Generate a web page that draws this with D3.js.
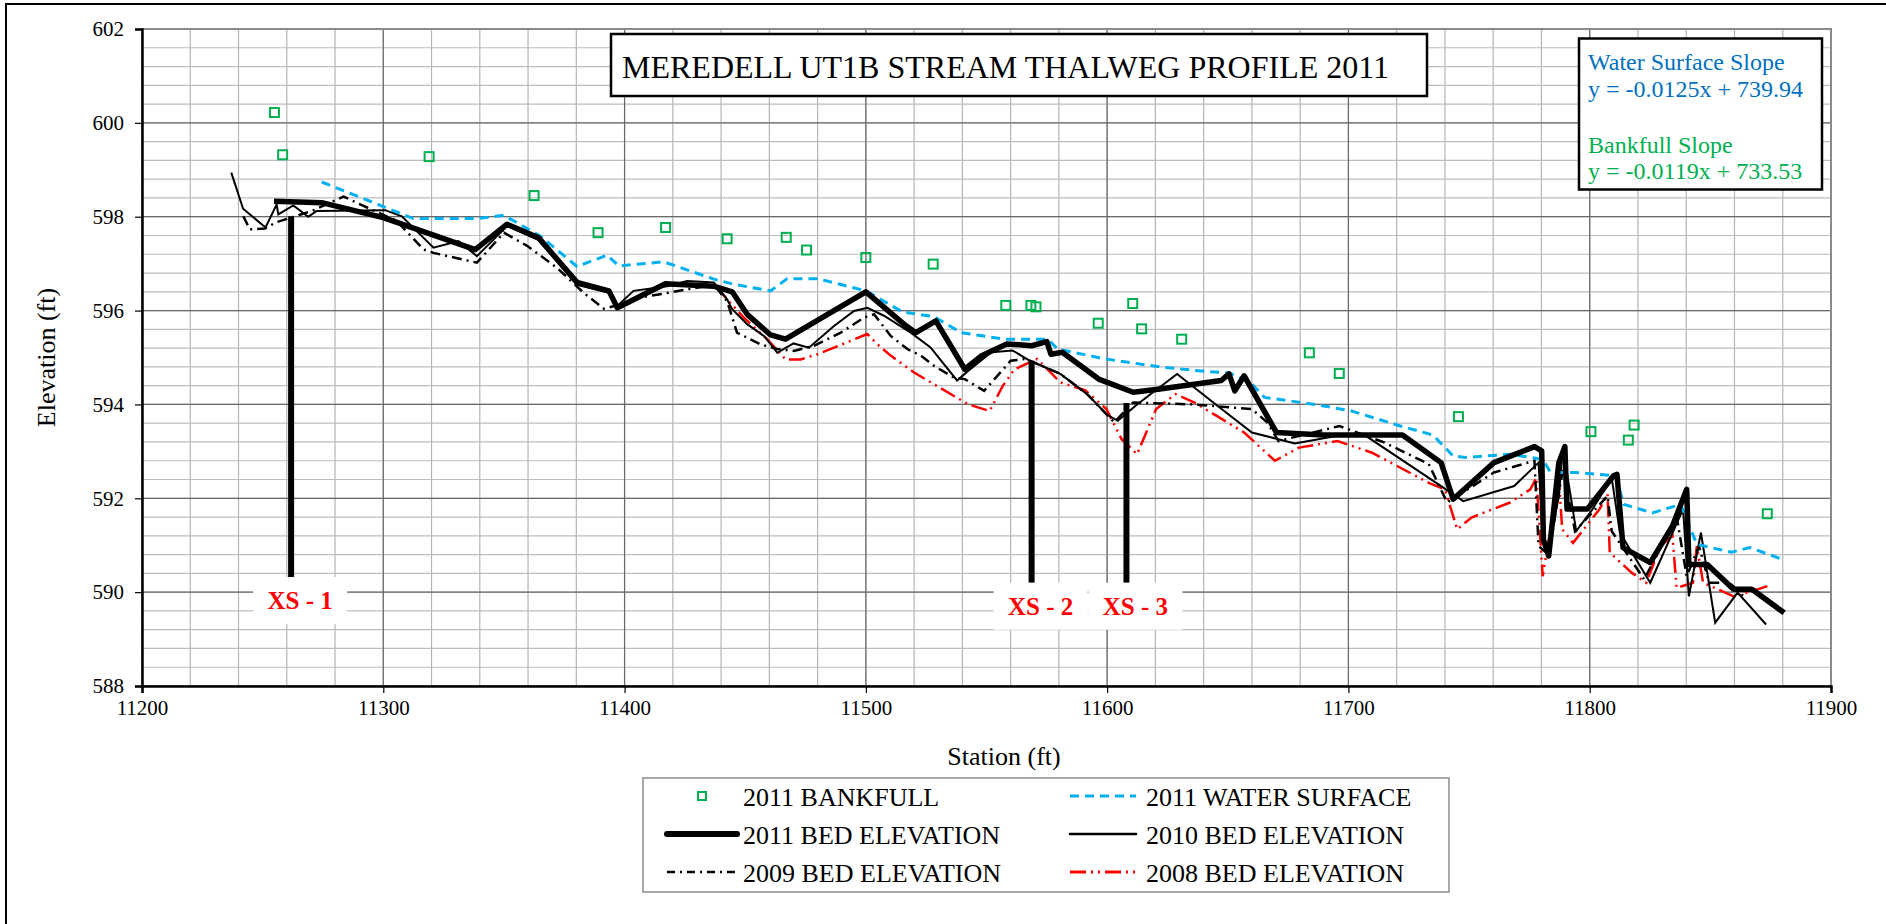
<!DOCTYPE html>
<html>
<head>
<meta charset="utf-8">
<script src="https://cdn.jsdelivr.net/npm/d3@7"></script>
<style>
  body { margin: 0; background: #fff; }
  text { font-family: "Liberation Serif", "Times New Roman", serif; }
</style>
</head>
<body>
<div id="profile"></div>
<script>
// station (ft), elevation (ft)
var bankfull2011 = [
  [11254.9, 600.22], [11258.3, 599.32], [11319.0, 599.28], [11362.5, 598.45],
  [11389.0, 597.66], [11417.0, 597.77], [11442.5, 597.53], [11467.0, 597.56],
  [11475.4, 597.29], [11500.0, 597.13], [11527.9, 596.99], [11558.0, 596.11],
  [11568.4, 596.11], [11570.5, 596.08], [11596.3, 595.73], [11610.6, 596.15],
  [11614.3, 595.61], [11630.9, 595.39], [11683.8, 595.10], [11696.2, 594.66],
  [11745.6, 593.74], [11800.5, 593.42], [11816.0, 593.24], [11818.4, 593.56],
  [11873.6, 591.67]
];

var water2011 = [
  [11274.5, 598.74], [11312.5, 597.96], [11338.8, 597.96], [11350.0, 598.03],
  [11365.0, 597.59], [11380.3, 596.94], [11392.8, 597.18], [11397.6, 596.95],
  [11401.7, 596.97], [11416.2, 597.04], [11437.0, 596.67], [11445.3, 596.56],
  [11460.5, 596.42], [11467.4, 596.68], [11480.0, 596.68], [11500.0, 596.42],
  [11515.2, 595.97], [11528.3, 595.87], [11539.4, 595.53], [11557.4, 595.39],
  [11575.4, 595.39], [11579.5, 595.18], [11599.0, 594.97], [11621.9, 594.80],
  [11641.2, 594.70], [11650.6, 594.67], [11655.7, 594.56], [11659.3, 594.47],
  [11665.2, 594.15], [11686.2, 594.00], [11701.3, 593.86], [11721.5, 593.54],
  [11735.0, 593.35], [11743.4, 592.90], [11748.5, 592.87], [11767.0, 592.94],
  [11780.5, 592.83], [11783.8, 592.55], [11794.0, 592.55], [11810.8, 592.48],
  [11814.1, 591.87], [11826.0, 591.69], [11837.7, 591.87], [11844.4, 591.02],
  [11858.8, 590.85], [11866.3, 590.95], [11879.8, 590.70]
];

var bed2011 = [
  [11254.7, 598.33], [11274.5, 598.30], [11300.0, 597.98], [11338.1, 597.30],
  [11351.3, 597.84], [11364.4, 597.55], [11380.3, 596.60], [11393.5, 596.42],
  [11397.0, 596.06], [11416.9, 596.57], [11437.0, 596.52], [11444.6, 596.40],
  [11450.8, 595.92], [11460.5, 595.48], [11466.7, 595.39], [11500.0, 596.40],
  [11515.8, 595.71], [11520.7, 595.53], [11529.0, 595.78], [11541.0, 594.75],
  [11548.0, 595.04], [11558.4, 595.29], [11568.7, 595.25], [11575.0, 595.34],
  [11576.7, 595.07], [11581.4, 595.11], [11596.5, 594.54], [11610.8, 594.26],
  [11621.9, 594.33], [11647.3, 594.51], [11650.5, 594.65], [11652.9, 594.29],
  [11656.8, 594.61], [11670.2, 593.40], [11689.6, 593.35], [11722.4, 593.35],
  [11738.4, 592.76], [11743.4, 591.98], [11760.3, 592.76], [11777.1, 593.10],
  [11780.1, 593.01], [11780.8, 591.12], [11783.0, 590.77], [11787.2, 592.76],
  [11789.7, 593.10], [11790.6, 591.77], [11799.0, 591.77], [11809.9, 592.48],
  [11811.3, 592.51], [11813.8, 590.95], [11825.1, 590.63], [11834.3, 591.41],
  [11840.2, 592.19], [11841.1, 590.59], [11848.7, 590.59], [11859.6, 590.06],
  [11867.2, 590.06], [11880.6, 589.56]
];

var bed2010 = [
  [11237.0, 598.94], [11241.9, 598.17], [11251.2, 597.77], [11255.8, 598.26],
  [11256.5, 598.05], [11262.7, 598.24], [11268.9, 598.00], [11272.3, 598.12],
  [11300.8, 598.14], [11307.7, 598.01], [11320.8, 597.34], [11331.2, 597.48],
  [11338.8, 597.16], [11351.3, 597.80], [11364.4, 597.50], [11380.3, 596.55],
  [11393.5, 596.38], [11397.0, 596.10], [11403.7, 596.42], [11417.6, 596.52],
  [11425.9, 596.63], [11437.0, 596.60], [11442.5, 596.24], [11444.6, 596.03],
  [11450.8, 595.71], [11458.0, 595.45], [11463.3, 595.10], [11470.0, 595.30],
  [11476.4, 595.21], [11486.8, 595.67], [11495.1, 595.99], [11500.6, 596.06],
  [11507.5, 595.89], [11518.6, 595.53], [11526.7, 595.22], [11537.8, 594.51],
  [11542.5, 594.72], [11552.0, 595.11], [11560.8, 595.15], [11568.0, 594.93],
  [11580.6, 594.65], [11591.7, 594.22], [11599.7, 593.79], [11604.4, 593.65],
  [11612.4, 594.00], [11629.0, 594.65], [11645.7, 593.97], [11660.0, 593.40],
  [11677.8, 593.17], [11695.5, 593.33], [11707.2, 593.33], [11738.4, 592.26],
  [11747.6, 591.94], [11768.7, 592.26], [11778.8, 592.76], [11780.5, 591.20],
  [11783.0, 590.91], [11787.2, 592.05], [11788.9, 593.08], [11794.4, 591.30],
  [11800.7, 591.73], [11809.1, 592.44], [11812.5, 591.27], [11825.1, 590.20],
  [11838.7, 591.77], [11841.1, 589.91], [11846.1, 591.27], [11852.0, 589.35],
  [11861.3, 589.99], [11873.1, 589.31]
];

var bed2009 = [
  [11242.0, 598.01], [11244.7, 597.73], [11251.0, 597.75], [11255.5, 597.88],
  [11263.0, 598.00], [11270.8, 598.13], [11283.5, 598.43], [11291.8, 598.23],
  [11305.6, 597.91], [11316.7, 597.30], [11320.8, 597.23], [11338.8, 597.02],
  [11350.0, 597.66], [11359.6, 597.38], [11372.0, 596.91], [11383.0, 596.38],
  [11391.4, 596.04], [11398.2, 596.13], [11406.5, 596.28], [11414.8, 596.35],
  [11437.0, 596.55], [11442.5, 596.20], [11446.6, 595.53], [11456.3, 595.28],
  [11463.3, 595.18], [11470.2, 595.14], [11478.5, 595.25], [11489.6, 595.53],
  [11499.2, 595.85], [11503.4, 595.92], [11510.3, 595.46], [11517.2, 595.18],
  [11522.8, 595.04], [11528.3, 594.82], [11536.6, 594.57], [11541.0, 594.54],
  [11549.0, 594.29], [11560.0, 594.93], [11566.3, 594.97], [11580.6, 594.65],
  [11591.7, 594.22], [11602.9, 593.62], [11610.8, 594.04], [11636.2, 594.00],
  [11660.0, 593.90], [11666.3, 593.62], [11671.0, 593.22], [11696.3, 593.54],
  [11714.8, 593.19], [11733.3, 592.73], [11740.9, 591.91], [11760.3, 592.55],
  [11777.1, 592.80], [11778.8, 590.98], [11783.0, 590.80], [11788.9, 592.62],
  [11793.9, 591.30], [11807.4, 592.05], [11809.1, 591.30], [11822.6, 590.27],
  [11836.0, 591.62], [11840.2, 590.34], [11845.3, 590.98], [11849.5, 590.20],
  [11857.9, 590.20], [11863.8, 589.91]
];

var bed2008 = [
  [11437.6, 596.52], [11449.4, 595.85], [11459.1, 595.39], [11466.7, 594.96],
  [11473.0, 594.96], [11479.9, 595.07], [11486.8, 595.21], [11500.6, 595.50],
  [11504.8, 595.28], [11510.3, 595.04], [11520.0, 594.68], [11542.5, 594.00],
  [11551.3, 593.86], [11556.8, 594.40], [11561.6, 594.75], [11571.0, 594.97],
  [11580.6, 594.47], [11591.0, 594.30], [11599.7, 593.90], [11606.0, 593.26],
  [11612.4, 592.94], [11620.3, 593.90], [11628.3, 594.22], [11636.2, 594.04],
  [11656.8, 593.40], [11669.5, 592.80], [11679.5, 593.08], [11695.5, 593.22],
  [11709.8, 592.97], [11733.3, 592.33], [11740.0, 592.19], [11745.1, 591.34],
  [11751.0, 591.59], [11767.0, 591.91], [11775.4, 592.19], [11777.9, 592.44],
  [11780.5, 590.34], [11784.7, 591.62], [11787.2, 592.41], [11788.6, 591.34],
  [11793.1, 591.05], [11804.1, 591.77], [11807.4, 592.09], [11808.3, 590.84],
  [11817.5, 590.41], [11823.4, 590.20], [11829.3, 590.98], [11834.3, 591.20],
  [11836.0, 590.09], [11842.8, 590.20], [11844.4, 590.98], [11847.0, 590.20],
  [11859.6, 589.91], [11866.0, 590.00], [11875.6, 590.16]
];

// cross sections: name, station, top elev, bottom elev
var xsNames    = ["XS - 1", "XS - 2", "XS - 3"];
var xsStations = [11261.8, 11568.7, 11608.0];
var xsTops     = [598.01, 594.93, 594.03];
var xsBottoms  = [590.32, 590.20, 590.20];

var xTicks = [11200, 11300, 11400, 11500, 11600, 11700, 11800, 11900];
var yTicks = [588, 590, 592, 594, 596, 598, 600, 602];

var titleText = "MEREDELL UT1B STREAM THALWEG PROFILE 2011";
var slopeLines = ["Water Surface Slope", "y = -0.0125x + 739.94", "Bankfull Slope", "y = -0.0119x + 733.53"];

var legendNames = ["2011 BANKFULL", "2011 WATER SURFACE", "2011 BED ELEVATION",
                   "2010 BED ELEVATION", "2009 BED ELEVATION", "2008 BED ELEVATION"];

var width = 1886,
    height = 924;

var x = d3.scaleLinear().domain([11200, 11900]).range([142, 1831]);
var y = d3.scaleLinear().domain([588, 602]).range([686, 29]);

var svg = d3.select("#profile")
    .append("svg")
    .attr("width", width)
    .attr("height", height);

// outer chart frame (only left/top edges show)
svg.append("rect")
    .attr("x", 6).attr("y", 4)
    .attr("width", width + 20).attr("height", height + 20)
    .style("fill", "#fff")
    .style("stroke", "#000")
    .style("stroke-width", 2);

// grid
var minorX = d3.range(11200, 11901, 20),
    minorY = d3.range(588, 602.01, 0.4);

svg.append("g").selectAll("line")
    .data(minorX).enter().append("line")
    .attr("x1", function(d) { return x(d); }).attr("x2", function(d) { return x(d); })
    .attr("y1", y(588)).attr("y2", y(602))
    .style("stroke", "#b4b4b4").style("stroke-width", 1.2);

svg.append("g").selectAll("line")
    .data(minorY).enter().append("line")
    .attr("x1", x(11200)).attr("x2", x(11900))
    .attr("y1", function(d) { return y(d); }).attr("y2", function(d) { return y(d); })
    .style("stroke", "#bdbdbd").style("stroke-width", 1.2);

svg.append("g").selectAll("line")
    .data(xTicks).enter().append("line")
    .attr("x1", function(d) { return x(d); }).attr("x2", function(d) { return x(d); })
    .attr("y1", y(588)).attr("y2", y(602))
    .style("stroke", "#6a6a6a").style("stroke-width", 1.2);

svg.append("g").selectAll("line")
    .data(yTicks).enter().append("line")
    .attr("x1", x(11200)).attr("x2", x(11900))
    .attr("y1", function(d) { return y(d); }).attr("y2", function(d) { return y(d); })
    .style("stroke", "#6a6a6a").style("stroke-width", 1.2);

// plot border: grey top/right, black axes
svg.append("rect")
    .attr("x", x(11200)).attr("y", y(602))
    .attr("width", x(11900) - x(11200)).attr("height", y(588) - y(602))
    .style("fill", "none").style("stroke", "#8a8a8a").style("stroke-width", 2);

var xAxis = svg.append("g")
    .attr("transform", "translate(0," + y(588) + ")")
    .call(d3.axisBottom(x).tickValues(xTicks).tickFormat(d3.format("d")).tickSizeOuter(0).tickSize(7));

var yAxis = svg.append("g")
    .attr("transform", "translate(" + x(11200) + ",0)")
    .call(d3.axisLeft(y).tickValues(yTicks).tickFormat(d3.format("d")).tickSizeOuter(0).tickSize(7));

[xAxis, yAxis].forEach(function(a) {
  a.select(".domain").style("stroke", "#000").style("stroke-width", 2.5);
  a.selectAll(".tick line").style("stroke", "#000").style("stroke-width", 1.2);
  a.selectAll(".tick text")
      .style("font-family", "Liberation Serif")
      .style("font-size", "21px")
      .style("fill", "#000");
});
xAxis.selectAll(".tick text").attr("y", 14);
yAxis.selectAll(".tick text").attr("x", -18);

// axis titles
svg.append("text")
    .attr("x", 1004).attr("y", 765)
    .attr("text-anchor", "middle")
    .style("font-size", "26px")
    .text("Station (ft)");

svg.append("text")
    .attr("transform", "translate(55," + ((y(588) + y(602)) / 2) + ") rotate(-90)")
    .attr("text-anchor", "middle")
    .style("font-size", "26px")
    .text("Elevation (ft)");

// series
var line = d3.line()
    .x(function(d) { return x(d[0]); })
    .y(function(d) { return y(d[1]); });

var plot = svg.append("g");

plot.append("path").datum(bed2008).attr("d", line)
    .style("fill", "none").style("stroke", "#ff0000").style("stroke-width", 2.5)
    .style("stroke-dasharray", "16,5,2,5,2,5");

plot.append("path").datum(bed2009).attr("d", line)
    .style("fill", "none").style("stroke", "#000").style("stroke-width", 2.5)
    .style("stroke-dasharray", "10,5,2,5");

plot.append("path").datum(bed2010).attr("d", line)
    .style("fill", "none").style("stroke", "#000").style("stroke-width", 2);

plot.append("path").datum(water2011).attr("d", line)
    .style("fill", "none").style("stroke", "#00b0f0").style("stroke-width", 3)
    .style("stroke-dasharray", "9,6");

plot.append("path").datum(bed2011).attr("d", line)
    .style("fill", "none").style("stroke", "#000").style("stroke-width", 5.5)
    .style("stroke-linejoin", "round");

plot.selectAll(".bank")
    .data(bankfull2011).enter().append("rect")
    .attr("class", "bank")
    .attr("x", function(d) { return x(d[0]) - 4.5; })
    .attr("y", function(d) { return y(d[1]) - 4.5; })
    .attr("width", 9).attr("height", 9)
    .style("fill", "none").style("stroke", "#00b050").style("stroke-width", 2);

// cross section markers
xsNames.forEach(function(name, i) {
  plot.append("line")
      .attr("x1", x(xsStations[i])).attr("x2", x(xsStations[i]))
      .attr("y1", y(xsTops[i])).attr("y2", y(xsBottoms[i]))
      .style("stroke", "#000").style("stroke-width", 6);

  var cx = x(xsStations[i]) + 9;
  plot.append("rect")
      .attr("x", cx - 47).attr("y", y(xsBottoms[i]))
      .attr("width", 94).attr("height", 47)
      .style("fill", "#fff");
  plot.append("text")
      .attr("x", cx).attr("y", y(xsBottoms[i]) + 32)
      .attr("text-anchor", "middle")
      .style("font-size", "25px").style("font-weight", "bold")
      .style("fill", "#ff0000")
      .text(name);
});

// title box
svg.append("rect")
    .attr("x", 611).attr("y", 34).attr("width", 816).attr("height", 62)
    .style("fill", "#fff").style("stroke", "#000").style("stroke-width", 2.5);
svg.append("text")
    .attr("x", 622).attr("y", 78)
    .style("font-size", "32px")
    .text(titleText);

// slope box
svg.append("rect")
    .attr("x", 1579).attr("y", 38.5).attr("width", 243).attr("height", 151)
    .style("fill", "#fff").style("stroke", "#000").style("stroke-width", 2.5);
var slopeY = [70, 97, 153, 179],
    slopeC = ["#0070c0", "#0070c0", "#00b050", "#00b050"];
slopeLines.forEach(function(t, i) {
  svg.append("text")
      .attr("x", 1588).attr("y", slopeY[i])
      .style("font-size", "24px")
      .style("fill", slopeC[i])
      .text(t);
});

// legend
var legend = svg.append("g");
legend.append("rect")
    .attr("x", 643).attr("y", 778).attr("width", 806).attr("height", 114)
    .style("fill", "#fff").style("stroke", "#8a8a8a").style("stroke-width", 1.5);

var legStyles = [
  {kind: "square"},
  {color: "#00b0f0", w: 3, dash: "9,6"},
  {color: "#000", w: 6, dash: null},
  {color: "#000", w: 2.5, dash: null},
  {color: "#000", w: 2.5, dash: "8,5,2,5"},
  {color: "#ff0000", w: 3, dash: "16,5,2,5,2,5"}
];

legendNames.forEach(function(name, i) {
  var col = i % 2,
      row = Math.floor(i / 2),
      sx = col === 0 ? 667 : 1070,
      ex = col === 0 ? 737 : 1136,
      tx = col === 0 ? 743 : 1146,
      by = 806 + row * 38;
  var s = legStyles[i];
  if (s.kind === "square") {
    legend.append("rect")
        .attr("x", (sx + ex) / 2 - 4).attr("y", by - 14)
        .attr("width", 8).attr("height", 8)
        .style("fill", "none").style("stroke", "#00b050").style("stroke-width", 2);
  } else {
    legend.append("line")
        .attr("x1", sx).attr("x2", ex)
        .attr("y1", by - 10).attr("y2", by - 10)
        .style("stroke", s.color).style("stroke-width", s.w)
        .style("stroke-linecap", s.dash ? "butt" : "round")
        .style("stroke-dasharray", s.dash);
  }
  legend.append("text")
      .attr("x", tx).attr("y", by)
      .style("font-size", "26px")
      .text(name);
});
</script>
</body>
</html>
